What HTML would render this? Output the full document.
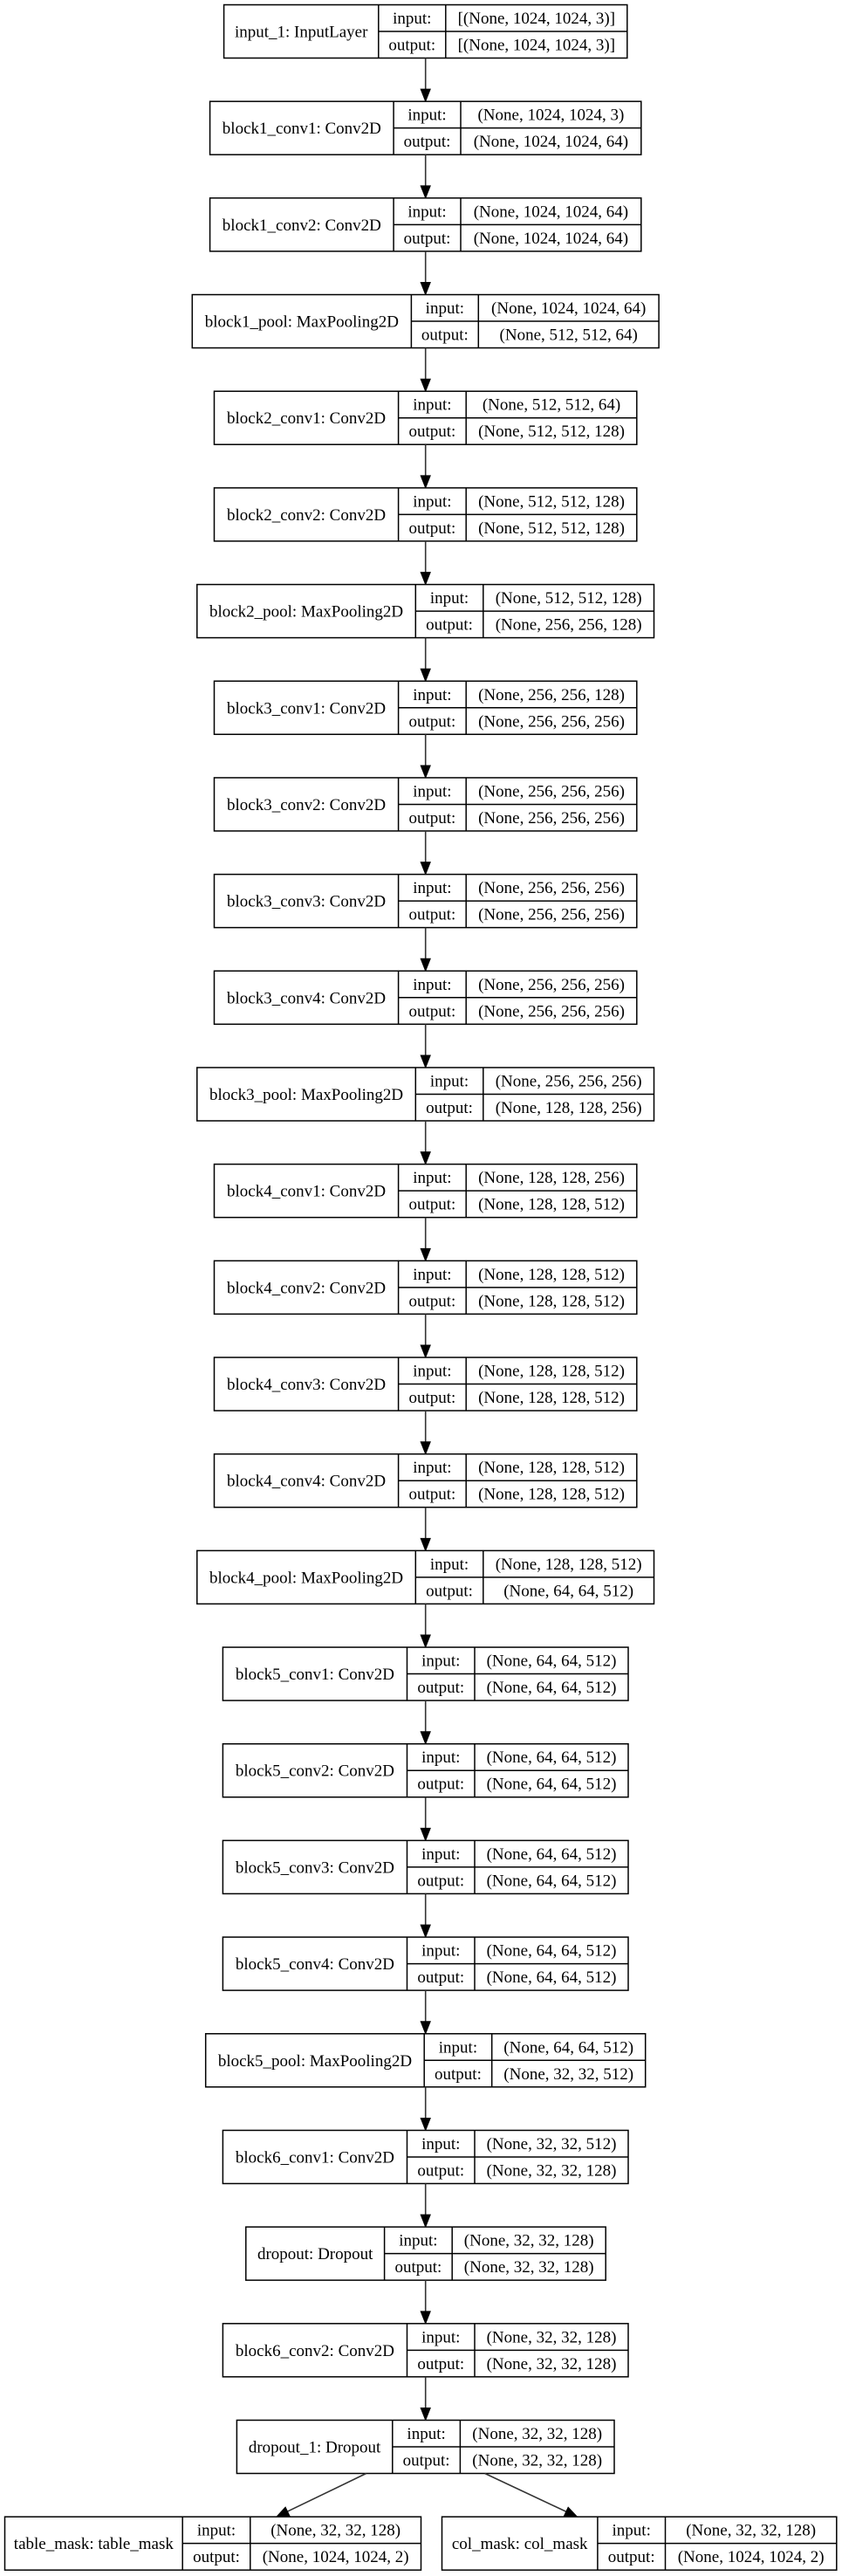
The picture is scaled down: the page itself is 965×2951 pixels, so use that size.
<!DOCTYPE html>
<html><head><meta charset="utf-8"><style>
html,body{margin:0;padding:0;background:#fff;}
svg{display:block;}
text{font-family:"Liberation Serif",serif;font-size:19px;fill:#000;text-anchor:middle;}
.b{fill:#fff;stroke:#000;stroke-width:1.5;}
.l{stroke:#000;stroke-width:1.5;}
.a{stroke:#333;stroke-width:1.6;fill:none;}
.h{fill:#000;stroke:#000;stroke-width:1;}
</style></head><body>
<svg width="965" height="2951" viewBox="0 0 965 2951" xmlns="http://www.w3.org/2000/svg">
<defs></defs>
<g id="rows"></g>
</svg>
<script>
(function(){
var svg=document.querySelector('svg');var NS="http://www.w3.org/2000/svg";
var I=[256.6,718.8,433.8,510.8],A=[240.6,734.8,451.1,528],B=[245.5,729.8,456.6,534.2],
P1=[220.3,755.1,471.4,548.3],P=[225.8,749.5,476.3,553.8],C5=[255.4,720,466.5,544],
P5=[235.7,739.7,486.2,563.7],D=[281.8,694.2,440.6,518.2],D1=[271.4,704,449.8,527.4],
T=[5.5,482.5,209.2,286.8],CM=[506.5,958.8,684.9,762.5];
var rows=[
[I,"input_1: InputLayer","[(None, 1024, 1024, 3)]","[(None, 1024, 1024, 3)]"],
[A,"block1_conv1: Conv2D","(None, 1024, 1024, 3)","(None, 1024, 1024, 64)"],
[A,"block1_conv2: Conv2D","(None, 1024, 1024, 64)","(None, 1024, 1024, 64)"],
[P1,"block1_pool: MaxPooling2D","(None, 1024, 1024, 64)","(None, 512, 512, 64)"],
[B,"block2_conv1: Conv2D","(None, 512, 512, 64)","(None, 512, 512, 128)"],
[B,"block2_conv2: Conv2D","(None, 512, 512, 128)","(None, 512, 512, 128)"],
[P,"block2_pool: MaxPooling2D","(None, 512, 512, 128)","(None, 256, 256, 128)"],
[B,"block3_conv1: Conv2D","(None, 256, 256, 128)","(None, 256, 256, 256)"],
[B,"block3_conv2: Conv2D","(None, 256, 256, 256)","(None, 256, 256, 256)"],
[B,"block3_conv3: Conv2D","(None, 256, 256, 256)","(None, 256, 256, 256)"],
[B,"block3_conv4: Conv2D","(None, 256, 256, 256)","(None, 256, 256, 256)"],
[P,"block3_pool: MaxPooling2D","(None, 256, 256, 256)","(None, 128, 128, 256)"],
[B,"block4_conv1: Conv2D","(None, 128, 128, 256)","(None, 128, 128, 512)"],
[B,"block4_conv2: Conv2D","(None, 128, 128, 512)","(None, 128, 128, 512)"],
[B,"block4_conv3: Conv2D","(None, 128, 128, 512)","(None, 128, 128, 512)"],
[B,"block4_conv4: Conv2D","(None, 128, 128, 512)","(None, 128, 128, 512)"],
[P,"block4_pool: MaxPooling2D","(None, 128, 128, 512)","(None, 64, 64, 512)"],
[C5,"block5_conv1: Conv2D","(None, 64, 64, 512)","(None, 64, 64, 512)"],
[C5,"block5_conv2: Conv2D","(None, 64, 64, 512)","(None, 64, 64, 512)"],
[C5,"block5_conv3: Conv2D","(None, 64, 64, 512)","(None, 64, 64, 512)"],
[C5,"block5_conv4: Conv2D","(None, 64, 64, 512)","(None, 64, 64, 512)"],
[P5,"block5_pool: MaxPooling2D","(None, 64, 64, 512)","(None, 32, 32, 512)"],
[C5,"block6_conv1: Conv2D","(None, 32, 32, 512)","(None, 32, 32, 128)"],
[D,"dropout: Dropout","(None, 32, 32, 128)","(None, 32, 32, 128)"],
[C5,"block6_conv2: Conv2D","(None, 32, 32, 128)","(None, 32, 32, 128)"],
[D1,"dropout_1: Dropout","(None, 32, 32, 128)","(None, 32, 32, 128)"]
];
var H=61,pitch=110.68,t0=5.5;
function el(n,a,txt){var e=document.createElementNS(NS,n);for(var k in a)e.setAttribute(k,a[k]);if(txt!=null)e.textContent=txt;svg.appendChild(e);return e;}
function box(g,t,lab,inp,out){var x0=g[0],x1=g[1],d1=g[2],d2=g[3];
el('rect',{'class':'b',x:x0,y:t,width:x1-x0,height:H});
el('line',{'class':'l',x1:d1,y1:t,x2:d1,y2:t+H});
el('line',{'class':'l',x1:d2,y1:t,x2:d2,y2:t+H});
el('line',{'class':'l',x1:d1,y1:t+H/2,x2:x1,y2:t+H/2});
el('text',{x:(x0+d1)/2,y:t+37},lab);
el('text',{x:(d1+d2)/2,y:t+21.5},'input:');
el('text',{x:(d2+x1)/2,y:t+21.5},inp);
el('text',{x:(d1+d2)/2,y:t+52},'output:');
el('text',{x:(d2+x1)/2,y:t+52},out);}
function arrow(xa,ya,xb,yb){var dx=xb-xa,dy=yb-ya,L=Math.sqrt(dx*dx+dy*dy),ux=dx/L,uy=dy/L,hl=14,hw=5.5;
var bx=xb-ux*hl,by=yb-uy*hl;
el('line',{'class':'a',x1:xa,y1:ya,x2:bx,y2:by});
el('polygon',{'class':'h',points:xb+','+yb+' '+(bx-uy*hw)+','+(by+ux*hw)+' '+(bx+uy*hw)+','+(by-ux*hw)});}
for(var i=0;i<rows.length;i++){var t=t0+pitch*i;var r=rows[i];box(r[0],t,r[1],r[2],r[3]);
 var nt=t0+pitch*(i+1); if(i<rows.length-1) arrow(487.7,t+H,487.7,nt);}
var tl=t0+pitch*26;
box(T,tl,"table_mask: table_mask","(None, 32, 32, 128)","(None, 1024, 1024, 2)");
box(CM,tl,"col_mask: col_mask","(None, 32, 32, 128)","(None, 1024, 1024, 2)");
var tb=t0+pitch*25+H;
arrow(419.7,tb,316.9,tl);arrow(555.7,tb,661.5,tl);
})();
</script>
</body></html>
